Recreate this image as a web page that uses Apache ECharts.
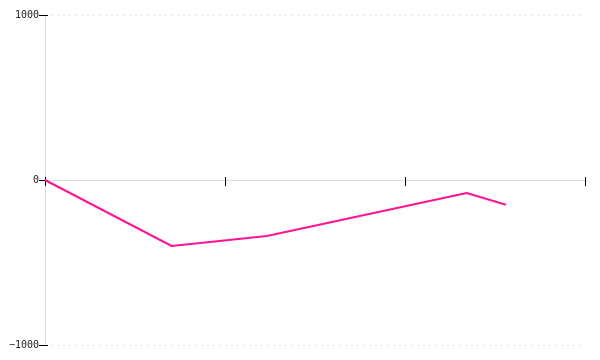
<!DOCTYPE html>
<html>
<head>
<meta charset="utf-8">
<script src="https://cdn.jsdelivr.net/npm/echarts@6/dist/echarts.min.js"></script>
<style>html,body{margin:0;padding:0;background:#fff}#c{width:600px;height:360px}</style>
</head>
<body>
<div id="c"></div>
<script>
const xValues = [0, 0.704, 1.233, 2.343, 2.561];
const yValues = [0, -400, -339, -79, -150];
const yTicks = [-1000, 0, 1000];

const points = xValues.map((x, i) => [x, yValues[i]]);
const chart = echarts.init(document.getElementById('c'));
const font = { fontFamily: 'DejaVu Sans Mono', fontSize: 10, color: '#222' };
chart.setOption({
  animation: false,
  grid: { left: 45, right: 15, top: 15, bottom: 15, containLabel: false },
  xAxis: [
    { type: 'value', min: 0, max: 3, interval: 1, position: 'bottom',
      axisLine: { show: true, onZero: true, onZeroAxisIndex: 0, lineStyle: { color: '#ddd', width: 1 } },
      axisTick: { show: true, length: 6, lineStyle: { color: '#000' } },
      axisLabel: { show: false }, splitLine: { show: false } },
    { type: 'value', min: 0, max: 3, interval: 1, position: 'top',
      axisLine: { show: true, onZero: true, onZeroAxisIndex: 1, lineStyle: { color: '#ddd', opacity: 0 } },
      axisTick: { show: true, length: 3, lineStyle: { color: '#000' } },
      axisLabel: { show: false }, splitLine: { show: false } }
  ],
  yAxis: [
    { type: 'value', min: yTicks[0], max: yTicks[2], interval: 1000, position: 'left',
      axisLine: { show: true, onZero: true, onZeroAxisIndex: 0, lineStyle: { color: '#ddd', width: 1 } },
      axisTick: { show: true, length: 6, lineStyle: { color: '#000' } },
      axisLabel: { show: true, margin: 6, ...font,
        formatter: v => String(v).replace('-', '\u2212') },
      splitLine: { show: true, lineStyle: { color: '#e6e6e6', type: [2, 4] } } },
    { type: 'value', min: yTicks[0], max: yTicks[2], interval: 1000, position: 'right',
      axisLine: { show: true, onZero: true, onZeroAxisIndex: 1, lineStyle: { color: '#ddd', opacity: 0 } },
      axisTick: { show: true, length: 3, lineStyle: { color: '#000' } },
      axisLabel: { show: false }, splitLine: { show: false } }
  ],
  series: [{
    type: 'line', data: points, xAxisIndex: 0, yAxisIndex: 0,
    showSymbol: false, symbol: 'none',
    lineStyle: { color: '#ff1493', width: 2 }
  }]
});
</script>
</body>
</html>
